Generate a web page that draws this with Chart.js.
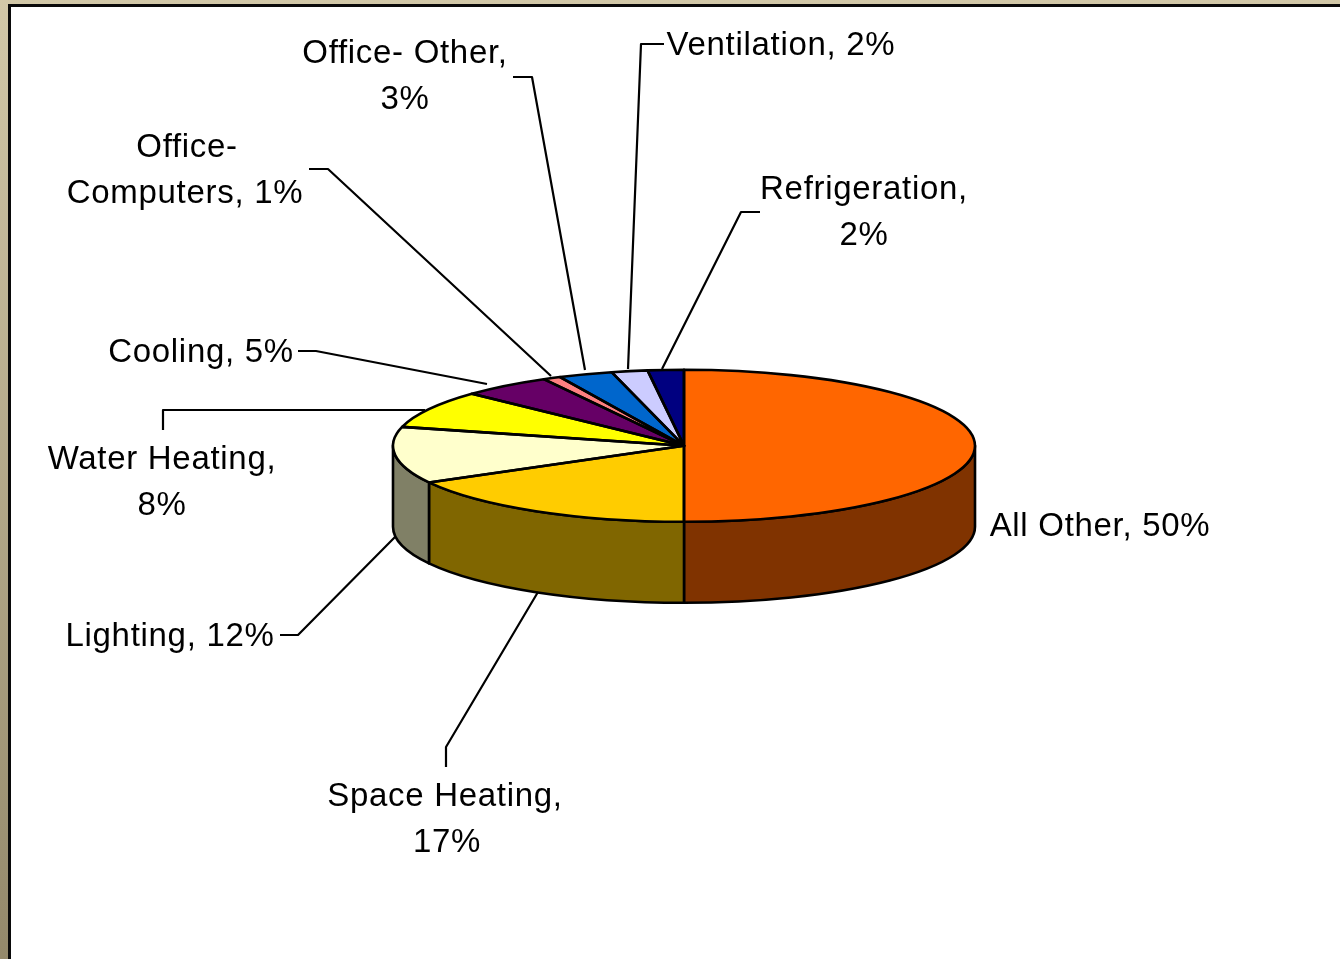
<!DOCTYPE html>
<html>
<head>
<meta charset="utf-8">
<style>
html,body{margin:0;padding:0;width:1340px;height:959px;overflow:hidden}
body{background:linear-gradient(180deg,#d2c8a8 0%,#94896b 100%);position:relative}
#panel{position:absolute;left:8px;top:4px;width:1340px;height:960px;background:#fff;border-left:3px solid #0a0a0a;border-top:3px solid #0a0a0a}
canvas{position:absolute;left:0;top:0}
</style>
<script src="https://cdn.jsdelivr.net/npm/chart.js@4/dist/chart.umd.js"></script>
</head>
<body>
<div id="panel"></div>
<canvas id="c" width="1340" height="959"></canvas>
<script>
const categories = ["All Other","Space Heating","Lighting","Water Heating","Cooling","Office- Computers","Office- Other","Ventilation","Refrigeration"];
const values = [50,17,12,8,5,1,3,2,2];
const topColors = ["#FF6600","#FFCC00","#FFFFCC","#FFFF00","#660066","#FF8080","#0066CC","#CCCCFF","#000080"];
const sideColors = ["#803300","#806600","#808066","#808000","#330033","#804040","#003366","#666680","#000040"];

// Label layout: centre x per line, first line centre y, where the text wraps, leader polyline
const labelLayout = [
  {x:[1100],y:527,lines:(c,v)=>[`${c}, ${v}%`],leader:null},
  {x:[445,447],y:797,lines:(c,v)=>[`${c},`,`${v}%`],leader:[[446,767],[446,747],[538,592]]},
  {x:[170],y:637,lines:(c,v)=>[`${c}, ${v}%`],leader:[[280,635],[298,635],[395,537]]},
  {x:[162,162],y:460,lines:(c,v)=>[`${c},`,`${v}%`],leader:[[163,430],[163,410],[425,410]]},
  {x:[201],y:353,lines:(c,v)=>[`${c}, ${v}%`],leader:[[298,351],[316,351],[487,384]]},
  {x:[187,185],y:148,lines:(c,v)=>{const p=c.split(" ");return [p[0],`${p[1]}, ${v}%`];},leader:[[309,169],[328,169],[551,376]]},
  {x:[405,405],y:54,lines:(c,v)=>[`${c},`,`${v}%`],leader:[[513,77],[532,77],[585,370]]},
  {x:[781],y:46,lines:(c,v)=>[`${c}, ${v}%`],leader:[[664,44],[641,44],[628,369]]},
  {x:[864,864],y:190,lines:(c,v)=>[`${c},`,`${v}%`],leader:[[760,212],[741,212],[662,369]]}
];
const lineGap = 46;
const pie = {cx:684, cy:445.8, rx:291, ry:76, depth:81};
const squash = pie.ry / pie.rx;

const pie3d = {
  id:"pie3d",
  beforeDatasetsDraw(chart){
    const ctx = chart.ctx, arcs = chart.getDatasetMeta(0).data;
    ctx.save();
    ctx.lineWidth = 2.6; ctx.strokeStyle = "#000"; ctx.lineJoin = "round";
    arcs.forEach((arc,i)=>{
      const a = Math.max(arc.startAngle,0), b = Math.min(arc.endAngle,Math.PI);
      if(b<=a) return;
      ctx.beginPath();
      ctx.ellipse(pie.cx,pie.cy,pie.rx,pie.ry,0,a,b);
      ctx.ellipse(pie.cx,pie.cy+pie.depth,pie.rx,pie.ry,0,b,a,true);
      ctx.closePath();
      ctx.fillStyle = sideColors[i];
      ctx.fill(); ctx.stroke();
    });
    ctx.restore();
    // the library draws the slices under this squash
    const o = arcs[0];
    ctx.save();
    ctx.setTransform(1,0,0,squash,pie.cx-o.x,pie.cy-o.y*squash);
  },
  afterDatasetsDraw(chart){
    const ctx = chart.ctx, arcs = chart.getDatasetMeta(0).data;
    ctx.restore();
    ctx.save();
    ctx.lineWidth = 2.6; ctx.strokeStyle = "#000"; ctx.lineJoin = "round";
    arcs.forEach(arc=>{
      ctx.beginPath();
      ctx.moveTo(pie.cx,pie.cy);
      ctx.ellipse(pie.cx,pie.cy,pie.rx,pie.ry,0,arc.startAngle,arc.endAngle);
      ctx.closePath();
      ctx.stroke();
    });
    // leaders
    ctx.lineWidth = 2.2;
    labelLayout.forEach(l=>{
      if(!l.leader) return;
      ctx.beginPath();
      l.leader.forEach((p,i)=> i?ctx.lineTo(p[0],p[1]):ctx.moveTo(p[0],p[1]));
      ctx.stroke();
    });
    // labels
    ctx.fillStyle = "#000";
    ctx.font = "33px 'Liberation Sans', Arial, sans-serif";
    ctx.letterSpacing = "0.7px";
    ctx.textAlign = "center";
    ctx.textBaseline = "middle";
    labelLayout.forEach((l,i)=>{
      l.lines(categories[i],values[i]).forEach((t,k)=>ctx.fillText(t,l.x[k],l.y+k*lineGap));
    });
    ctx.restore();
  }
};

new Chart(document.getElementById("c"),{
  type:"pie",
  data:{labels:categories,datasets:[{data:values,backgroundColor:topColors,borderWidth:0,radius:pie.rx,clip:false}]},
  options:{
    responsive:false,animation:false,
    plugins:{legend:{display:false},tooltip:{enabled:false}}
  },
  plugins:[pie3d]
});
</script>
</body>
</html>
